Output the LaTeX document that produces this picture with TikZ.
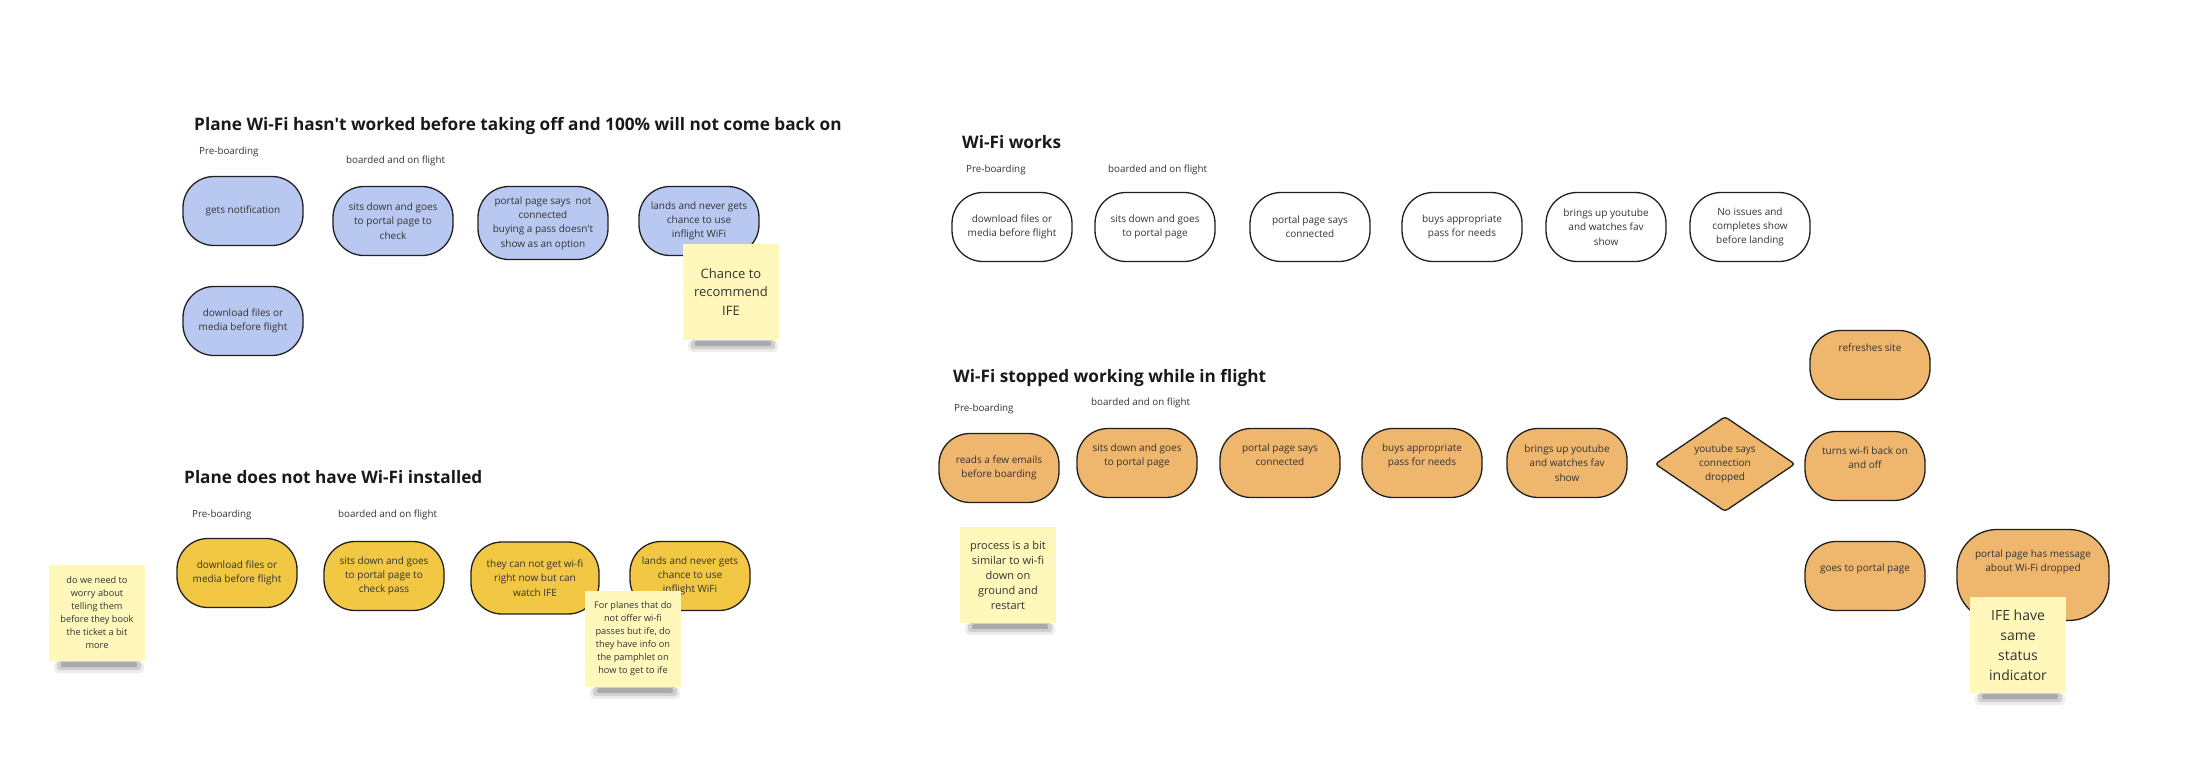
\documentclass[tikz,border=0pt]{standalone}
\usepackage{fontspec}
\newfontfamily\wififont{Open Sans}
\usepackage{tikz}
\usetikzlibrary{shapes.geometric,calc}

\definecolor{bluefill}{HTML}{B9C8F0}
\definecolor{yellowfill}{HTML}{F1C744}
\definecolor{orangefill}{HTML}{EFB66E}
\definecolor{notefill}{HTML}{FFF8BA}
\definecolor{inkline}{HTML}{1F1F1F}
\definecolor{inktext}{HTML}{333333}

\begin{document}
\begin{tikzpicture}[x=1pt, y=-1pt, line cap=round,
  stadium/.style={draw=inkline, line width=1.3pt, rounded corners=31pt,
    minimum width=120pt, minimum height=69pt, align=center, text=inktext,
    inner sep=2pt, font=\wififont\fontsize{10}{14.3}\selectfont},
  lift/.style={text depth=#1},
  note/.style={fill=notefill, minimum width=96pt, minimum height=96pt,
    align=center, text=inktext, inner sep=2pt},
  title/.style={anchor=base west, inner sep=0pt, text=black!90,
    font=\wififont\fontsize{17.2}{20}\selectfont\bfseries},
  phase/.style={anchor=base west, inner sep=0pt, text=inktext,
    font=\wififont\fontsize{9.8}{12}\selectfont}]
  \useasboundingbox (0,0) rectangle (2208,768);

  % wi-fi dead before take off (blue)
  \node[title] (tA) at (194,130) {Plane Wi-Fi hasn't worked before taking off and 100\% will not come back on};
  \node[phase] (pA1) at (199,154) {Pre-boarding};
  \node[phase] (pA2) at (346,163) {boarded and on flight};
  \node[stadium, fill=bluefill] (aNotify) at (243,211) {gets notification};
  \node[stadium, fill=bluefill] (aSit) at (393,221) {sits down and goes\\to portal page to\\check};
  \node[stadium, fill=bluefill, minimum width=130pt, minimum height=73pt] (aPortal) at (543,223)
    {portal page says\ \ not\\connected\\buying a pass doesn't\\show as an option};
  \node[stadium, fill=bluefill] (aLand) at (699,221) {lands and never gets\\chance to use\\inflight WiFi};
  \node[stadium, fill=bluefill] (aDownload) at (243,321) {download files or\\media before flight};
  \node[note, font=\wififont\fontsize{13}{18.5}\selectfont] (aIFE) at (731,292) {Chance to\\recommend\\IFE};

  % no wi-fi on board (yellow)
  \node[title] (tB) at (184,483) {Plane does not have Wi-Fi installed};
  \node[phase] (pB1) at (192,517) {Pre-boarding};
  \node[phase] (pB2) at (338,517) {boarded and on flight};
  \node[stadium, fill=yellowfill] (bDownload) at (237,573) {download files or\\media before flight};
  \node[stadium, fill=yellowfill] (bSit) at (384,576) {sits down and goes\\to portal page to\\check pass};
  \node[stadium, fill=yellowfill, minimum width=128pt, minimum height=72pt] (bIFE) at (535,578)
    {they can not get wi-fi\\right now but can\\watch IFE};
  \node[stadium, fill=yellowfill] (bLand) at (690,576) {lands and never gets\\chance to use\\inflight WiFi};
  \node[note, font=\wififont\fontsize{9.2}{13}\selectfont] (bWorry) at (97,613)
    {do we need to\\worry about\\telling them\\before they book\\the ticket a bit\\more};
  \node[note, font=\wififont\fontsize{9.2}{13}\selectfont] (bPamphlet) at (633,639)
    {For planes that do\\not offer wi-fi\\passes but ife, do\\they have info on\\the pamphlet on\\how to get to ife};

  % wi-fi works (white)
  \node[title] (tC) at (962,148) {Wi-Fi works};
  \node[phase] (pC1) at (966,172) {Pre-boarding};
  \node[phase] (pC2) at (1108,172) {boarded and on flight};
  \node[stadium] (cDownload) at (1012,227) {download files or\\media before flight};
  \node[stadium] (cSit) at (1155,227) {sits down and goes\\to portal page};
  \node[stadium] (cPortal) at (1310,227) {portal page says\\connected};
  \node[stadium] (cBuy) at (1462,227) {buys appropriate\\pass for needs};
  \node[stadium] (cWatch) at (1606,227) {brings up youtube\\and watches fav\\show};
  \node[stadium] (cDone) at (1750,227) {No issues and\\completes show\\before landing};

  % wi-fi drops mid flight (orange)
  \node[title] (tD) at (953,382) {Wi-Fi stopped working while in flight};
  \node[phase] (pD1) at (954,411) {Pre-boarding};
  \node[phase] (pD2) at (1091,405) {boarded and on flight};
  \node[stadium, fill=orangefill] (dEmails) at (999,468) {reads a few emails\\before boarding};
  \node[stadium, fill=orangefill, lift=16.5pt] (dSit) at (1137,463) {sits down and goes\\to portal page};
  \node[stadium, fill=orangefill, lift=16.5pt] (dPortal) at (1280,463) {portal page says\\connected};
  \node[stadium, fill=orangefill, lift=16.5pt] (dBuy) at (1422,463) {buys appropriate\\pass for needs};
  \node[stadium, fill=orangefill] (dWatch) at (1567,463) {brings up youtube\\and watches fav\\show};
  \node[diamond, aspect=1.47, draw=inkline, line width=1.3pt, rounded corners=3pt, fill=orangefill,
    minimum width=140pt, minimum height=95pt, inner sep=0pt, align=center, text=inktext,
    font=\wififont\fontsize{10}{14.3}\selectfont] (dDrop) at (1725,464) {youtube says\\connection\\dropped};
  \node[stadium, fill=orangefill, lift=34.5pt] (dRefresh) at (1870,365) {refreshes site};
  \node[stadium, fill=orangefill, lift=16.5pt] (dToggle) at (1865,466) {turns wi-fi back on\\and off};
  \node[stadium, fill=orangefill, lift=16.5pt] (dGoPortal) at (1865,576) {goes to portal page};
  \node[stadium, fill=orangefill, minimum width=152pt, minimum height=91pt, rounded corners=40pt,
    lift=28.5pt] (dMessage) at (2033,575) {portal page has message\\about Wi-Fi dropped};
  \node[note, font=\wififont\fontsize{11}{15}\selectfont] (dSimilar) at (1008,575)
    {process is a bit\\similar to wi-fi\\down on\\ground and\\restart};
  \node[note, font=\wififont\fontsize{14}{20}\selectfont] (dSame) at (2018,645) {IFE have\\same\\status\\indicator};

  % soft shadows under the sticky notes
  \foreach \n in {aIFE,bWorry,bPamphlet,dSimilar,dSame} {
    \fill[black, opacity=0.07, rounded corners=5pt]
      ($(\n.south west)+(5,0)$) rectangle ($(\n.south east)+(-1,12)$);
    \fill[black, opacity=0.12, rounded corners=3pt]
      ($(\n.south west)+(8,0)$) rectangle ($(\n.south east)+(-4,9)$);
    \fill[black, opacity=0.18, rounded corners=2pt]
      ($(\n.south west)+(12,1)$) rectangle ($(\n.south east)+(-8,6)$);
  }
\end{tikzpicture}
\end{document}
